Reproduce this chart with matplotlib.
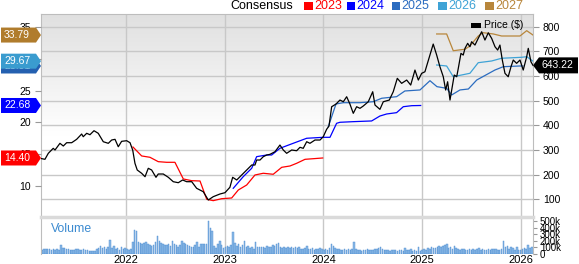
import numpy as np
import matplotlib.pyplot as plt
import matplotlib.transforms as mtransforms
from matplotlib.patches import Polygon, Rectangle

plt.rcParams["font.family"] = ["Liberation Sans", "DejaVu Sans"]

# ----------------------------------------------------------------------
# Data
# ----------------------------------------------------------------------
price_t = [
    2021.139, 2021.179, 2021.213, 2021.263, 2021.281, 2021.331, 2021.365, 2021.399, 2021.450, 2021.500,
    2021.551, 2021.567, 2021.602, 2021.635, 2021.676, 2021.719, 2021.770, 2021.821, 2021.855, 2021.889,
    2021.922, 2021.956, 2022.007, 2022.041, 2022.068, 2022.091, 2022.114, 2022.159, 2022.193, 2022.226,
    2022.260, 2022.304, 2022.327, 2022.378, 2022.429, 2022.479, 2022.530, 2022.574, 2022.615, 2022.666,
    2022.716, 2022.783, 2022.834, 2022.884, 2022.952, 2023.003, 2023.053, 2023.081, 2023.122, 2023.172,
    2023.223, 2023.274, 2023.307, 2023.324, 2023.358, 2023.391, 2023.426, 2023.459, 2023.510, 2023.543,
    2023.560, 2023.594, 2023.628, 2023.679, 2023.729, 2023.763, 2023.796, 2023.831, 2023.864, 2023.915,
    2023.966, 2023.999, 2024.033, 2024.057, 2024.084, 2024.128, 2024.168, 2024.202, 2024.236, 2024.269,
    2024.303, 2024.337, 2024.371, 2024.404, 2024.455, 2024.500, 2024.523, 2024.573, 2024.607, 2024.668,
    2024.708, 2024.749, 2024.793, 2024.844, 2024.885, 2024.928, 2024.962, 2024.996, 2025.029, 2025.080,
    2025.113, 2025.148, 2025.181, 2025.215, 2025.239, 2025.259, 2025.283, 2025.300, 2025.326, 2025.351,
    2025.367, 2025.394, 2025.417, 2025.435, 2025.462, 2025.485, 2025.502, 2025.536, 2025.569, 2025.604,
    2025.637, 2025.671, 2025.705, 2025.739, 2025.766, 2025.789, 2025.813, 2025.840, 2025.873, 2025.901,
    2025.924, 2025.958, 2025.992, 2026.025, 2026.060, 2026.076, 2026.103, 2026.124,
]
price = [
    265.5, 262.3, 286.6, 306.8, 300.0, 327.1, 316.2, 329.6, 329.6, 343.3,
    364.8, 353.9, 367.7, 362.0, 378.2, 367.7, 333.6, 327.1, 340.5, 343.3,
    313.3, 335.2, 337.7, 329.6, 300.0, 246.0, 218.9, 205.5, 191.7, 225.8,
    218.9, 189.3, 202.7, 202.7, 189.3, 171.5, 167.4, 178.4, 171.5, 171.5,
    144.7, 130.9, 97.3, 110.7, 121.6, 126.9, 148.8, 189.3, 178.4, 198.6,
    218.9, 239.2, 239.2, 259.4, 259.4, 272.8, 279.7, 282.5, 293.1, 310.9,
    320.2, 300.0, 286.6, 300.0, 297.1, 310.9, 306.8, 333.6, 327.1, 340.5,
    340.5, 353.9, 383.9, 397.2, 475.5, 486.4, 502.6, 495.7, 516.0, 486.4,
    448.7, 475.5, 469.0, 478.3, 495.7, 536.3, 482.4, 464.9, 495.7, 502.6,
    536.3, 590.6, 570.3, 583.7, 563.4, 624.2, 583.7, 610.9, 617.3, 685.0,
    729.6, 685.0, 637.6, 597.1, 543.2, 576.8, 502.6, 543.2, 604.0, 597.1,
    631.1, 691.9, 685.0, 712.2, 732.5, 718.7, 739.0, 725.6, 752.7, 779.5,
    745.8, 775.4, 752.7, 718.7, 705.3, 725.6, 664.8, 610.9, 597.1, 637.6,
    664.8, 651.4, 664.8, 624.2, 678.2, 712.2, 657.9, 643.22,
]

eps23_t = [2022.071, 2022.159, 2022.243, 2022.327, 2022.412, 2022.496, 2022.581, 2022.666,
           2022.750, 2022.818, 2022.884, 2022.970, 2023.071, 2023.138, 2023.223, 2023.307,
           2023.391, 2023.492, 2023.578, 2023.662, 2023.729, 2023.814, 2023.993]
eps23 = [16.13, 14.72, 14.51, 13.82, 13.72, 13.72, 11.09, 10.82, 10.77, 7.89, 7.67, 7.98,
         8.09, 9.35, 10.14, 11.72, 11.99, 11.83, 12.93, 13.14, 13.56, 14.19, 14.40]

eps24_t = [2023.087, 2023.188, 2023.274, 2023.324, 2023.426, 2023.476, 2023.560, 2023.695,
           2023.831, 2023.999, 2024.067, 2024.134, 2024.168, 2024.303, 2024.489, 2024.573,
           2024.641, 2024.742, 2024.810, 2024.895, 2024.986]
eps24 = [9.62, 11.45, 12.78, 14.61, 14.87, 14.87, 15.93, 16.72, 17.51, 17.66, 17.66,
         19.87, 20.03, 20.13, 20.24, 21.02, 21.34, 21.55, 22.49, 22.65, 22.68]

eps25_t = [2024.050, 2024.128, 2024.202, 2024.371, 2024.506, 2024.591, 2024.742, 2024.826,
           2024.979, 2025.080, 2025.151, 2025.249, 2025.300, 2025.384, 2025.469, 2025.554,
           2025.739, 2025.823, 2025.992, 2026.022]
eps25 = [19.34, 22.92, 23.12, 23.12, 23.28, 23.82, 24.07, 24.97, 25.13, 26.59, 25.65,
         25.39, 24.34, 25.13, 25.28, 26.70, 28.28, 28.80, 28.91, 28.91]

eps26_t = [2025.148, 2025.249, 2025.316, 2025.485, 2025.569, 2025.705, 2025.806, 2026.009,
           2026.060, 2026.124]
eps26 = [29.07, 28.91, 27.22, 27.76, 29.43, 29.70, 30.13, 30.28, 30.38, 29.67]

eps27_t = [2025.148, 2025.249, 2025.316, 2025.435, 2025.485, 2025.569, 2025.620, 2025.722,
           2025.806, 2025.992, 2026.060, 2026.124]
eps27 = [33.96, 33.96, 31.32, 31.55, 32.07, 33.64, 34.16, 33.96, 33.64, 33.64, 34.48, 33.79]

# weekly volume in thousands, first week starting 2021.149
volume_start = 2021.149
volume_k = [
    60, 75, 70, 80, 72, 65, 78, 60, 70, 62, 140, 90, 85, 70, 72, 60, 68, 58, 70, 75,
    65, 62, 80, 60, 55, 50, 45, 48, 52, 70, 85, 125, 90, 110, 80, 105, 210, 85, 120, 70,
    95, 60, 110, 75, 95,
    70, 65, 80, 185, 365, 345, 175, 160, 145, 165, 175, 150, 130, 120, 140, 180, 275, 190,
    160, 150, 140, 130, 145, 120, 200, 150, 130, 110, 140, 200, 165, 150, 135, 120, 110,
    100, 130, 175, 100, 150, 155, 150, 150, 505, 400, 355, 120, 90, 150, 200, 130, 90,
    110, 125, 100, 130, 330, 170, 120, 150, 110, 130, 200, 110, 120, 95, 100, 80, 175, 110,
    100, 105, 110, 95, 120, 100, 110, 140, 120, 150, 170, 110, 90, 100, 85, 110, 95, 100,
    85, 110, 90, 100, 80, 75, 95, 125, 80, 70, 90, 60, 80, 70, 95, 70,
    65, 80, 60, 90, 150, 120, 90, 75, 80, 65, 55, 80, 60, 70, 60, 75, 175, 70, 65, 60,
    50, 55, 60, 70, 55, 65, 60, 75, 80, 95, 110, 80, 60, 55, 65, 50, 55, 60, 55, 50,
    65, 55, 50, 90, 55, 60, 70, 50, 65, 45, 100, 40,
    55, 70, 60, 85, 70, 110, 90, 95, 100, 120, 105, 115, 130, 150, 95, 110, 75, 120, 90, 80,
    60, 70, 75, 55, 65, 80, 60, 70, 55, 75, 90, 60, 70, 65, 55, 75, 60, 70, 80, 75,
    55, 65, 70, 190, 110, 125, 80, 100, 90, 65, 100, 55,
    60, 70, 85, 75, 140, 90, 100,
]

years = [2022, 2023, 2024, 2025, 2026]
eps_ticks = [10, 15, 20, 25, 30, 35]
price_ticks = [100, 200, 300, 400, 500, 600, 700, 800]
vol_ticks = [0, 100, 200, 300, 400, 500]
vol_labels = ["0", "100k", "200k", "300k", "400k", "500k"]

legend_labels = ["2023", "2024", "2025", "2026", "2027"]
line_colors = ["#ff0000", "#0000ff", "#2b6cc0", "#3fa3d6", "#b8863b"]
tag_colors = ["#ff0000", "#0000ff", "#2460b0", "#3a9ccf", "#b07c2c"]

# ----------------------------------------------------------------------
# Layout helpers (pixel -> figure fraction)
# ----------------------------------------------------------------------
W, H = 579, 264


def fx(px):
    return px / W


def fy(py):
    return 1 - py / H


GRID = "#c8c8c8"
SPINE = "#bdbdbd"
XMIN, XMAX = 2021.139, 2026.124
PMIN, PMAX = 32.4, 851.5
EMIN, EMAX = 5.25, 37.11

fig = plt.figure(figsize=(W / 100, H / 100), dpi=100)
fig.patch.set_facecolor("white")

# ----------------------------------------------------------------------
# Main panel: price (right axis) + consensus EPS (left axis)
# ----------------------------------------------------------------------
ax = fig.add_axes([fx(41), fy(216), 492 / W, 202 / H])
grad = np.ones((200, 1, 3))
frac = np.linspace(0, 1, 200)
shade = (224 + 31 * np.clip(frac / 0.6, 0, 1)) / 255
grad[:, 0, :] = shade[:, None]
ax.imshow(grad, extent=(0, 1, 0, 1), transform=ax.transAxes, aspect="auto", zorder=0)

ax_eps = ax.twinx()

# twinx moves the host ticks to the left, so set the price side afterwards
ax.set_xlim(XMIN, XMAX)
ax.set_ylim(PMIN, PMAX)
ax.set_xticks(years)
ax.set_yticks(price_ticks)
ax.grid(True, color=GRID, lw=1.0, zorder=1)
ax.yaxis.set_ticks_position("right")
ax.tick_params(axis="y", right=True, left=False, labelright=True, labelleft=False,
               length=4, color="#999999", labelsize=7.5, pad=3)
ax.tick_params(axis="x", length=0, labelbottom=False)
for s in ax.spines.values():
    s.set_color(SPINE)
ax.spines["bottom"].set_visible(False)

ax_eps.set_xlim(XMIN, XMAX)
ax_eps.set_ylim(EMIN, EMAX)
ax_eps.yaxis.set_ticks_position("left")
ax_eps.set_yticks(eps_ticks)
ax_eps.tick_params(axis="y", left=True, right=False, labelleft=True, labelright=False,
                   length=4, color="#999999", labelsize=7.5, pad=3)
for s in ax_eps.spines.values():
    s.set_visible(False)

eps_series = [(eps23_t, eps23), (eps24_t, eps24), (eps25_t, eps25),
              (eps26_t, eps26), (eps27_t, eps27)]
for (t, v), c in zip(eps_series, line_colors):
    ax_eps.plot(t, v, color=c, lw=0.9, zorder=3)

# price line drawn on top, in price coordinates
ax_eps.plot(price_t, price, color="black", lw=0.9, zorder=4, transform=ax.transData)
ax_eps.set_ylim(EMIN, EMAX)

# left value tags (last consensus value of each year), later years on top
tag_tr = mtransforms.blended_transform_factory(fig.transFigure, ax_eps.transData)
half_e = 7.5 * (EMAX - EMIN) / 202
for i, ((t, v), c) in enumerate(zip(eps_series, tag_colors)):
    last = v[-1]
    pts = [(fx(1), last - half_e), (fx(36), last - half_e), (fx(41), last),
           (fx(36), last + half_e), (fx(1), last + half_e)]
    ax_eps.add_patch(Polygon(pts, closed=True, facecolor=c, edgecolor="none",
                             transform=tag_tr, clip_on=False, zorder=6 + 2 * i))
    ax_eps.text(fx(4), last, f"{last:.2f}", transform=tag_tr, color="white",
                fontsize=7.5, va="center", ha="left", clip_on=False, zorder=7 + 2 * i)

# right price tag
ptag_tr = mtransforms.blended_transform_factory(fig.transFigure, ax.transData)
last_p = price[-1]
half_p = 8 * (PMAX - PMIN) / 202
pts = [(fx(533), last_p), (fx(539), last_p + half_p), (fx(578), last_p + half_p),
       (fx(578), last_p - half_p), (fx(539), last_p - half_p)]
ax_eps.add_patch(Polygon(pts, closed=True, facecolor="black", edgecolor="none",
                         transform=ptag_tr, clip_on=False, zorder=20))
ax_eps.text(fx(541), last_p, f"{last_p:.2f}", transform=ptag_tr, color="white",
            fontsize=7.5, va="center", ha="left", clip_on=False, zorder=21)

# ----------------------------------------------------------------------
# Volume panel
# ----------------------------------------------------------------------
ax_vol = fig.add_axes([fx(41), fy(254), 492 / W, 37 / H])
week = 7 / 365.25
vol_x = volume_start + np.arange(len(volume_k)) * week
ax_vol.bar(vol_x, volume_k, width=week * 0.8, color="#8bb9e6",
           edgecolor="#4a8bd0", linewidth=0.3, zorder=2)
ax_vol.set_xlim(XMIN, XMAX)
ax_vol.set_ylim(0, 560)
ax_vol.set_xticks(years)
ax_vol.set_xticklabels([str(y) for y in years])
ax_vol.grid(True, axis="x", color=GRID, lw=1.0, zorder=1)
ax_vol.tick_params(axis="x", length=0, labelsize=8, pad=0.5)
ax_vol.yaxis.set_ticks_position("right")
ax_vol.set_yticks(vol_ticks)
ax_vol.set_yticklabels(vol_labels)
ax_vol.tick_params(axis="y", right=True, left=False, length=3, color="#999999",
                   labelsize=7, pad=2)
for s in ax_vol.spines.values():
    s.set_color(SPINE)
ax_vol.spines["top"].set_color("#dadada")
ax_vol.spines["top"].set_linewidth(2.5)
ax_vol.spines["bottom"].set_visible(False)
ax_vol.text(0.02, 0.68, "Volume", transform=ax_vol.transAxes, color="#3b8ad0",
            fontsize=8.8, va="center", ha="left")

# ----------------------------------------------------------------------
# Legends
# ----------------------------------------------------------------------
fig.text(fx(230.7), fy(5.6), "Consensus", fontsize=9, va="center", ha="left")
sq_x = [304, 346.7, 391.7, 438, 485]
for x0, lab, c in zip(sq_x, legend_labels, line_colors):
    fig.patches.append(Rectangle((fx(x0), fy(9.5)), 8.5 / W, 8 / H,
                                 transform=fig.transFigure, facecolor=c,
                                 edgecolor="none"))
    fig.text(fx(x0 + 10), fy(5.6), lab, color=c, fontsize=9, va="center", ha="left")

fig.patches.append(Rectangle((fx(470.7), fy(27.5)), 10 / W, 5 / H,
                             transform=fig.transFigure, facecolor="black",
                             edgecolor="none"))
fig.text(fx(483.7), fy(25), "Price ($)", fontsize=7.5, va="center", ha="left")

fig.savefig("out.png", dpi=100)
